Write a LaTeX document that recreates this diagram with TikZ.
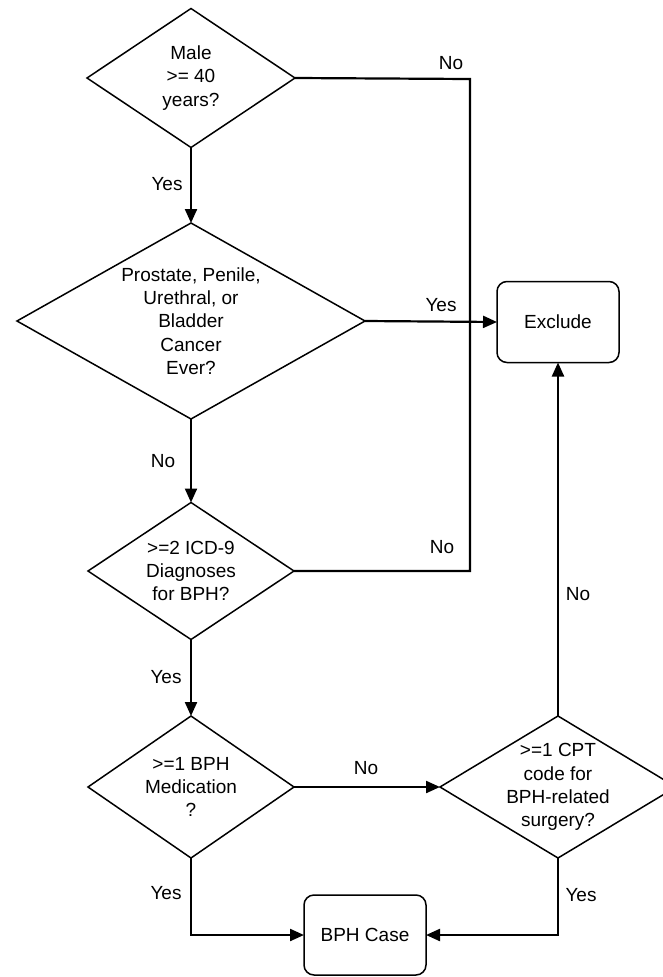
\documentclass[tikz,border=0pt]{standalone}
\usepackage{fontspec}
\setmainfont{Liberation Sans}
\usetikzlibrary{shapes.geometric,arrows.meta}
\begin{document}
\begin{tikzpicture}[x=1pt,y=-1pt,
  font=\fontsize{19}{23.3}\selectfont,
  dec/.style={diamond, draw, line width=1.5pt, fill=white, inner sep=0pt, outer sep=0pt},
  txt/.style={align=center, inner sep=0pt},
  term/.style={draw, line width=1.5pt, rounded corners=10pt, fill=white, minimum width=122pt, minimum height=81pt, inner sep=0pt, outer sep=0pt},
  conn/.style={line width=2.2pt},
  arr/.style={conn, -{Triangle[length=14pt,width=12pt]}},
  lbl/.style={inner sep=0pt}
]
\useasboundingbox (0,0) rectangle (663,977);

% decisions
\node[dec, minimum width=208pt, minimum height=139pt,
  label={[txt]center:Male\\>= 40\\years?}] (d1) at (191,78) {};
\node[dec, minimum width=348pt, minimum height=196pt,
  label={[txt]center:{Prostate, Penile,\\Urethral, or\\Bladder\\Cancer\\Ever?}}] (d2) at (191,321) {};
\node[dec, minimum width=206pt, minimum height=137pt,
  label={[txt]center:>=2 ICD-9\\Diagnoses\\for BPH?}] (d3) at (191,571) {};
\node[dec, minimum width=206pt, minimum height=142pt,
  label={[txt]center:>=1 BPH\\Medication\\?}] (d4) at (191,787) {};
\node[dec, minimum width=236pt, minimum height=142pt,
  label={[txt]center:>=1 CPT\\code for\\BPH-related\\surgery?}] (d5) at (558,787) {};

% terminals
\node[term] (excl) at (558,322) {Exclude};
\node[term, minimum height=80pt] (case) at (365,935) {BPH Case};

% helper corners
\coordinate (c1) at (470,79);
\coordinate (c2) at (470,571);

% connectors
\draw[conn] (d1.east) -- (c1) -- (c2) -- (d3.east);
\draw[arr] (d1.south) -- (d2.north);
\draw[arr] (d2.east) -- (excl.west);
\draw[arr] (d2.south) -- (d3.north);
\draw[arr] (d3.south) -- (d4.north);
\draw[arr] (d4.east) -- (d5.west);
\draw[arr] (d5.north) -- (excl.south);
\draw[arr] (d4.south) |- (case.west);
\draw[arr] (d5.south) |- (case.east);

% connector labels
\node[lbl] (l1) at (451,63) {No};
\node[lbl] (l2) at (167,184) {Yes};
\node[lbl] (l3) at (441,305) {Yes};
\node[lbl] (l4) at (163,461) {No};
\node[lbl] (l5) at (442,547) {No};
\node[lbl] (l6) at (166,677) {Yes};
\node[lbl] (l7) at (366,768) {No};
\node[lbl] (l8) at (578,594) {No};
\node[lbl] (l9) at (166,893) {Yes};
\node[lbl] (l10) at (581,895) {Yes};
\end{tikzpicture}
\end{document}
